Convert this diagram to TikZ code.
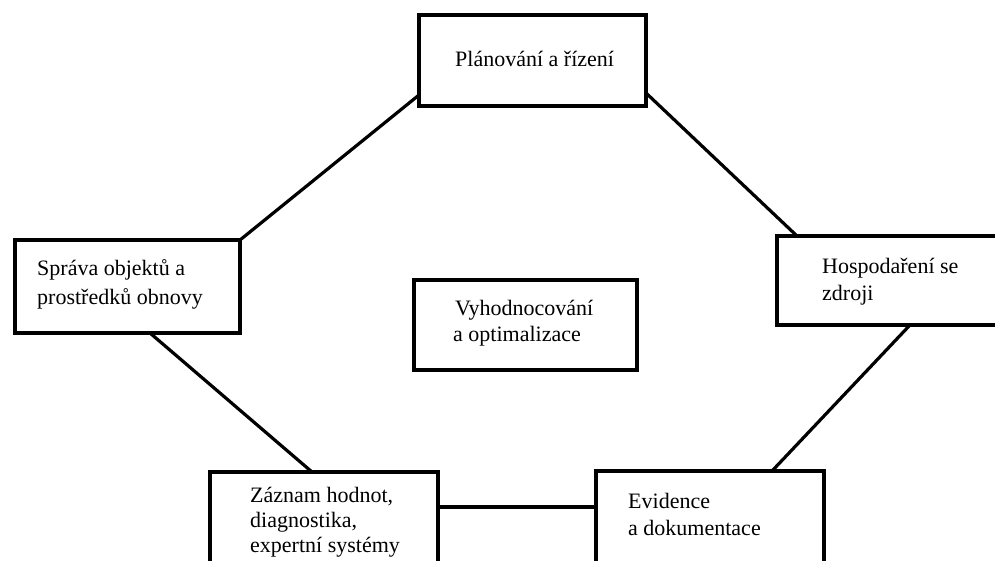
\documentclass[tikz,border=0pt]{standalone}
\usepackage{fontspec}
\setmainfont{Liberation Serif}
\usetikzlibrary{calc}
\tikzset{
  boxnode/.style={draw=black, line width=4.5pt, rectangle, inner sep=0pt, outer sep=0pt, anchor=north west, fill=white},
  conn/.style={draw=black, line width=3.2pt},
  txt/.style={anchor=base west, inner sep=0pt, font=\fontsize{22}{26}\selectfont, text=black}
}
\begin{document}
\begin{tikzpicture}[x=1pt,y=-1pt]
\useasboundingbox (0,0) rectangle (995,561);
\clip (0,0) rectangle (995,561);
\fill[white] (0,0) rectangle (995,561);
% boxes
\node[boxnode, minimum width=227pt, minimum height=91pt] (P) at (419,15) {};
\node[boxnode, minimum width=225pt, minimum height=93pt] (S) at (15,240) {};
\node[boxnode, minimum width=240pt, minimum height=89pt] (H) at (777,236) {};
\node[boxnode, minimum width=223pt, minimum height=90pt] (V) at (414,280) {};
\node[boxnode, minimum width=228pt, minimum height=120pt] (Z) at (210,472) {};
\node[boxnode, minimum width=228pt, minimum height=120pt] (E) at (596,471) {};
% connectors
\draw[conn] (S.north east) -- ([yshift=11pt]P.south west);
\draw[conn] ([yshift=13pt]P.south east) -- ([xshift=20pt]H.north west);
\draw[conn] ([xshift=135pt]S.south west) -- ([xshift=102pt]Z.north west);
\draw[conn] ([xshift=133pt]H.south west) -- ([xshift=176pt]E.north west);
\coordinate (zr) at ([yshift=-35pt]Z.north east);
\draw[conn] (zr) -- (zr -| E.west);
% texts
\node[txt] (tP) at (455,67) {Plánování a řízení};
\node[txt] (tS1) at (37,276) {Správa objektů a};
\node[txt] (tS2) at (37,304) {prostředků obnovy};
\node[txt] (tH1) at (822,273) {Hospodaření se};
\node[txt] (tH2) at (822,300) {zdroji};
\node[txt] (tV1) at (455,315) {Vyhodnocování};
\node[txt] (tV2) at (453,341) {a optimalizace};
\node[txt] (tZ1) at (250,502) {Záznam hodnot,};
\node[txt] (tZ2) at (250,527) {diagnostika,};
\node[txt] (tZ3) at (250,552) {expertní systémy};
\node[txt] (tE1) at (628,508) {Evidence};
\node[txt] (tE2) at (628,535) {a dokumentace};
\end{tikzpicture}
\end{document}
